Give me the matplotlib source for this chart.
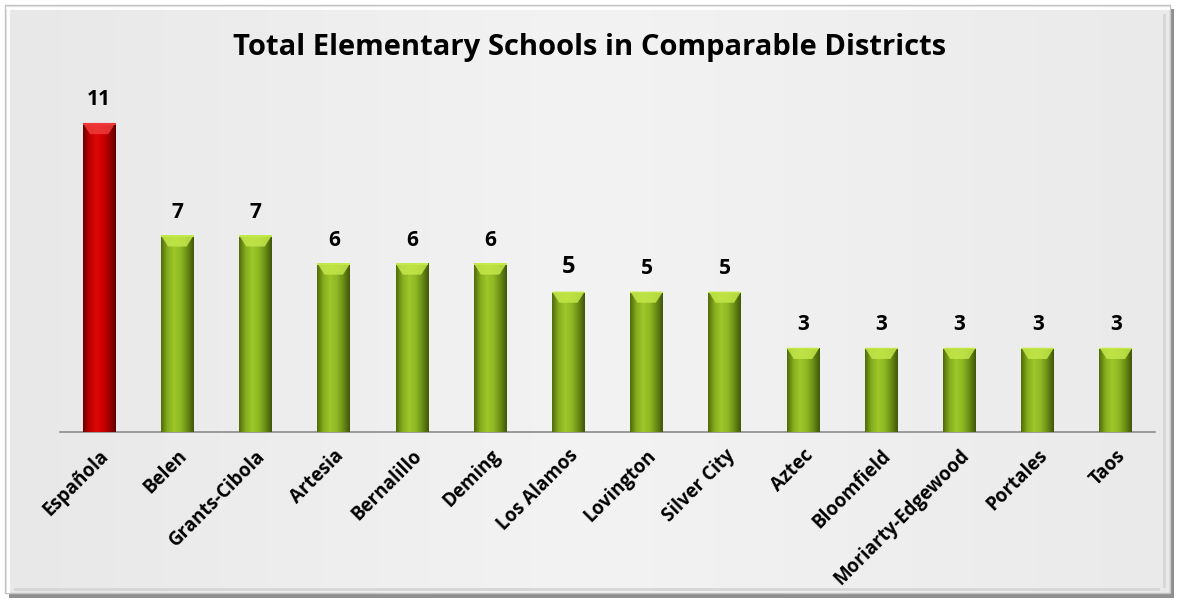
import matplotlib
matplotlib.use("Agg")
import matplotlib.pyplot as plt
import numpy as np
from matplotlib.patches import Rectangle, Polygon
from matplotlib.colors import LinearSegmentedColormap

districts = ["Española", "Belen", "Grants-Cibola", "Artesia", "Bernalillo", "Deming",
             "Los Alamos", "Lovington", "Silver City", "Aztec", "Bloomfield",
             "Moriarty-Edgewood", "Portales", "Taos"]
schools = [11, 7, 7, 6, 6, 6, 5, 5, 5, 3, 3, 3, 3, 3]
title = "Total Elementary Schools in Comparable Districts"

FONT = ["Open Sans", "DejaVu Sans"]
plt.rcParams['font.family'] = FONT

W, H = 1178, 601
fig = plt.figure(figsize=(W / 100, H / 100), dpi=100)
fig.patch.set_facecolor("white")

# background frame with shadow
bg = fig.add_axes([0, 0, 1, 1], zorder=-10)
bg.set_xlim(0, W); bg.set_ylim(H, 0); bg.axis("off")
bg.add_patch(Rectangle((9, 9), W - 13, H - 12, facecolor="#8f8f8f", edgecolor="none"))
grad = np.linspace(0, 1, 256).reshape(1, -1)
cmap_bg = LinearSegmentedColormap.from_list("bg", ["#e8e8e8", "#f3f3f3", "#eaeaea"])
bg.imshow(grad, extent=(5, W - 8, H - 8, 5), cmap=cmap_bg, aspect="auto", zorder=1)
bg.add_patch(Rectangle((5, 5), W - 13, H - 13, facecolor="none", edgecolor="#c4c4c4", lw=1.0, zorder=2))
bg.plot([7, W - 10], [8, 8], color="white", lw=2, zorder=3)
bg.plot([8, 8], [8, H - 10], color="white", lw=2, zorder=3)
bg.plot([15, W - 20], [H - 12, H - 12], color="#d6d6d6", lw=2, zorder=3)
bg.plot([W - 14, W - 14], [15, H - 15], color="#d6d6d6", lw=2, zorder=3)

ax = fig.add_axes([60 / W, (H - 432) / H, 1095 / W, 12 * 28.1 / H])
ax.patch.set_alpha(0)
x = np.arange(len(districts))
colors = ["#cc0000"] + ["#8fb825"] * (len(districts) - 1)
bars = ax.bar(x, schools, width=0.42, color=colors, zorder=2)
ax.set_xlim(-0.5, len(districts) - 0.5)
ax.set_ylim(0, 12)

cm_green = LinearSegmentedColormap.from_list("g", ["#4f6a0c", "#86ad1d", "#9dc72a", "#8fb823", "#6a8d14", "#3f560a"])
cm_red = LinearSegmentedColormap.from_list("r", ["#6e0000", "#c00000", "#dd0808", "#cc0000", "#a00000", "#5a0000"])
hgrad = np.linspace(0, 1, 256).reshape(1, -1)
for i, b in enumerate(bars):
    x0, w, h = b.get_x(), b.get_width(), b.get_height()
    cm = cm_red if i == 0 else cm_green
    im = ax.imshow(hgrad, extent=(x0, x0 + w, 0, h), cmap=cm, aspect="auto", zorder=3)
    im.set_clip_path(b)
    cap = 0.4
    top_col = "#f03a3a" if i == 0 else "#c4e84a"
    ax.add_patch(Polygon([[x0, h], [x0 + w, h], [x0 + w * 0.78, h - cap], [x0 + w * 0.22, h - cap]],
                         closed=True, facecolor=top_col, edgecolor="none", alpha=0.85, zorder=4))
    ax.add_patch(Rectangle((x0, h - 0.06), w, 0.06, facecolor=top_col, edgecolor="none", zorder=4))
    fs = 17 if districts[i] == "Los Alamos" else 15
    ax.annotate(str(schools[i]), (x[i], h), xytext=(0, 9), textcoords="offset points",
                ha="center", va="bottom", fontsize=fs, fontweight="bold", color="black")

ax.set_xticks(x)
ax.set_xticklabels(districts, rotation=45, ha="right", rotation_mode="anchor",
                   fontsize=13.5, fontweight="bold")
ax.tick_params(axis="x", length=0, pad=10)
ax.set_yticks([])
for s in ["top", "right", "left"]:
    ax.spines[s].set_visible(False)
ax.spines["bottom"].set_color("#8c8c8c")
ax.spines["bottom"].set_linewidth(1.2)

fig.text(590 / W, 1 - 47 / H, title, ha="center", va="center", fontsize=21, fontweight="bold")

fig.savefig("out.png", dpi=100)
